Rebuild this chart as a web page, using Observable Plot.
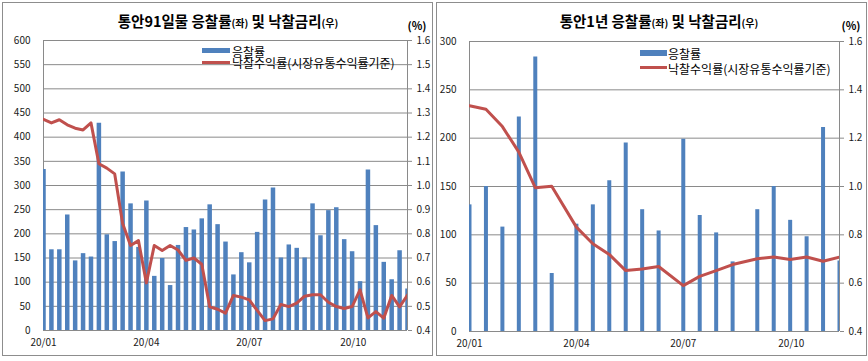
<!DOCTYPE html>
<html>
<head>
<meta charset="utf-8">
<script src="https://cdn.jsdelivr.net/npm/d3@7"></script>
<script src="https://cdn.jsdelivr.net/npm/@observablehq/plot@0.6"></script>
<style>
  body { margin: 0; background: #fff; font-family: "Noto Sans CJK KR", "Noto Sans", sans-serif; }
  #wrap { position: relative; width: 868px; height: 361px; overflow: hidden; background: #fff; }
  .frame { position: absolute; border: 1px solid #8d8d8d; box-sizing: border-box; z-index: 5; pointer-events: none; }
  .chart { position: absolute; top: 0; z-index: 1; }
  .title { position: absolute; top: 10px; font-weight: bold; font-size: 14.5px; line-height: 22px; white-space: nowrap; transform: translateX(-50%); color: #000; z-index: 6; }
  .title small { font-size: 10px; font-weight: bold; }
  .pct { position: absolute; font-size: 11px; font-weight: bold; line-height: 14px; transform: translateX(-50%); z-index: 6; color: #000; }
  .leg { position: absolute; font-size: 12px; line-height: 11px; white-space: nowrap; z-index: 6; color: #000; }
  .sw { position: absolute; z-index: 6; }
</style>
</head>
<body>
<div id="wrap">
  <div class="frame" style="left:2px;top:2px;width:431px;height:354px;"></div>
  <div class="frame" style="left:436px;top:2px;width:431px;height:354px;"></div>

  <div class="title" style="left:228px;">통안91일물 응찰률<small>(좌)</small> 및 낙찰금리<small>(우)</small></div>
  <div class="title" style="left:659px;">통안1년 응찰률<small>(좌)</small> 및 낙찰금리<small>(우)</small></div>
  <div class="pct" style="left:417px;top:18px;">(%)</div>
  <div class="pct" style="left:851px;top:18px;">(%)</div>

  <div class="sw" style="left:202px;top:47.5px;width:28px;height:5.5px;background:#4F81BD;"></div>
  <div class="leg" style="left:232px;top:45.5px;">응찰률</div>
  <div class="sw" style="left:202px;top:61px;width:28px;height:3px;background:#C0504D;"></div>
  <div class="leg" style="left:232px;top:57px;">낙찰수익률(시장유통수익률기준)</div>

  <div class="sw" style="left:640px;top:50px;width:27px;height:6px;background:#4F81BD;"></div>
  <div class="leg" style="left:668px;top:47.5px;">응찰률</div>
  <div class="sw" style="left:640px;top:66px;width:27px;height:3px;background:#C0504D;"></div>
  <div class="leg" style="left:668px;top:62.5px;">낙찰수익률(시장유통수익률기준)</div>

  <div id="c1" class="chart" style="left:0px;"></div>
  <div id="c2" class="chart" style="left:434px;"></div>
</div>
<script>
// ---------- 통안 91일물 (weekly auctions) ----------
const dates91 = [
  "2020-01-06","2020-01-13","2020-01-20","2020-01-27",
  "2020-02-03","2020-02-10","2020-02-17","2020-02-24",
  "2020-03-02","2020-03-09","2020-03-16","2020-03-23","2020-03-30",
  "2020-04-06","2020-04-13","2020-04-20","2020-04-27",
  "2020-05-04","2020-05-11","2020-05-18","2020-05-25",
  "2020-06-01","2020-06-08","2020-06-15","2020-06-22","2020-06-29",
  "2020-07-06","2020-07-13","2020-07-20","2020-07-27",
  "2020-08-03","2020-08-10","2020-08-17","2020-08-24","2020-08-31",
  "2020-09-07","2020-09-14","2020-09-21","2020-09-28",
  "2020-10-05","2020-10-12","2020-10-19","2020-10-26",
  "2020-11-02","2020-11-09","2020-11-16","2020-11-23"
];
const bid91 = [333,167,167,239,144,159,152,429,198,184,328,262,172,268,112,149,93,176,213,208,231,260,219,183,115,161,140,203,270,295,150,177,170,150,262,196,248,254,188,163,101,332,217,141,105,165,86];
const rate91 = [1.274,1.259,1.272,1.251,1.237,1.23,1.259,1.09,1.072,1.048,0.843,0.752,0.772,0.597,0.752,0.731,0.752,0.733,0.69,0.70,0.674,0.498,0.488,0.472,0.545,0.538,0.527,0.483,0.441,0.448,0.508,0.499,0.513,0.542,0.548,0.548,0.517,0.499,0.491,0.499,0.568,0.452,0.478,0.451,0.545,0.498,0.547];
const tickDates91 = ["2020-01-06","2020-04-06","2020-07-06","2020-10-06"];

// ---------- 통안 1년 ----------
const dates1y = [
  "2020-01-07","2020-01-21","2020-02-04","2020-02-18","2020-03-03","2020-03-17",
  "2020-04-07","2020-04-21","2020-05-05","2020-05-19","2020-06-02","2020-06-16",
  "2020-07-07","2020-07-21","2020-08-04","2020-08-18",
  "2020-09-08","2020-09-22","2020-10-06","2020-10-20","2020-11-03","2020-11-17"
];
const bid1y = [131,150,108,222,284,60,111,131,156,195,126,104,199,120,102,72,126,150,115,98,211,73];
const rate1y = [1.334,1.32,1.248,1.142,0.995,1.001,0.832,0.763,0.719,0.652,0.659,0.669,0.59,0.628,0.652,0.677,0.701,0.708,0.698,0.708,0.691,0.708];
const tickDates1y = ["2020-01-07","2020-04-07","2020-07-07","2020-10-07"];

// shared tick labels
const xTickLabels = ["20/01","20/04","20/07","20/10"];
const rightTicks91 = [0.4,0.5,0.6,0.7,0.8,0.9,1.0,1.1,1.2,1.3,1.4,1.5,1.6];
const rightTicks1y = [0.4,0.6,0.8,1.0,1.2,1.4,1.6];
const leftTicks91 = [0,50,100,150,200,250,300,350,400,450,500,550,600];
const leftTicks1y = [0,50,100,150,200,250,300];
const rateDomain = [0.4, 1.6];

const parse = d3.utcParse("%Y-%m-%d");
const FONT = '"Noto Sans CJK KR", "Noto Sans", sans-serif';

function panel({dates, bids, rates, leftTicks, rightTicks, tickDates, width, ml, mr, mt, mb, barW}) {
  const yMax = leftTicks[leftTicks.length - 1];
  const bars = dates.map((d, i) => ({date: parse(d), v: bids[i]}));
  const pts = dates.map((d, i) => ({date: parse(d), r: rates[i]}));
  const toY = r => (r - rateDomain[0]) / (rateDomain[1] - rateDomain[0]) * yMax;
  const rightPos = rightTicks.map(toY);
  const rightLabel = new Map(rightTicks.map((r, i) => [rightPos[i], r.toFixed(1)]));
  const xTicks = tickDates.map(parse);
  const xLabel = new Map(xTicks.map((d, i) => [+d, xTickLabels[i]]));
  const d0 = bars[0].date, d1 = bars[bars.length - 1].date;
  return Plot.plot({
    width, height: 361,
    marginLeft: ml, marginRight: mr, marginTop: mt, marginBottom: mb,
    style: {background: "none", fontFamily: FONT, fontSize: "10px", color: "#1a1a1a", overflow: "visible"},
    x: {type: "utc", domain: [d0, d1], label: null},
    y: {domain: [0, yMax], label: null},
    marks: [
      Plot.ruleY(leftTicks, {stroke: "#8a8a8a", strokeWidth: 1}),
      Plot.ruleX([d0, d1], {stroke: "#8a8a8a", strokeWidth: 1}),
      Plot.ruleX(bars, {x: "date", y1: 0, y2: "v", stroke: "#4F81BD", strokeWidth: barW, clip: true}),
      Plot.line(pts, {x: "date", y: d => toY(d.r), stroke: "#C0504D", strokeWidth: 3, strokeLinejoin: "round", strokeLinecap: "round", clip: true}),
      Plot.axisY(leftTicks, {anchor: "left", label: null, tickSize: 0, tickPadding: 13, tickFormat: d => String(d)}),
      Plot.axisY(rightPos, {anchor: "right", label: null, tickSize: 4, tickPadding: 5, stroke: "#8a8a8a", tickFormat: d => rightLabel.get(d)}),
      Plot.axisX(xTicks, {anchor: "bottom", label: null, tickSize: 0, tickPadding: 8, tickFormat: d => xLabel.get(+d)})
    ]
  });
}

document.getElementById("c1").append(panel({
  dates: dates91, bids: bid91, rates: rate91,
  leftTicks: leftTicks91, rightTicks: rightTicks91, tickDates: tickDates91,
  width: 434, ml: 43, mr: 27, mt: 40, mb: 31, barW: 4.5
}));
document.getElementById("c2").append(panel({
  dates: dates1y, bids: bid1y, rates: rate1y,
  leftTicks: leftTicks1y, rightTicks: rightTicks1y, tickDates: tickDates1y,
  width: 434, ml: 35, mr: 29, mt: 41, mb: 30, barW: 4
}));
</script>
</body>
</html>
